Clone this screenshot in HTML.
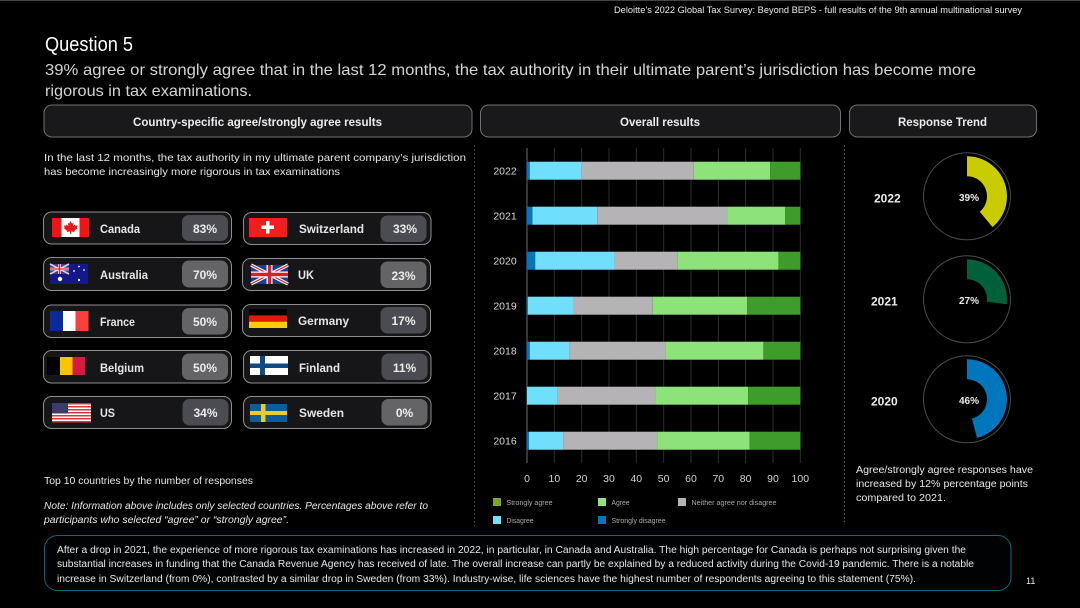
<!DOCTYPE html>
<html lang="en">
<head>
<meta charset="utf-8">
<title>Question 5 - Global Tax Survey</title>
<style>
html,body{margin:0;padding:0;background:#000;width:1080px;height:608px;overflow:hidden}
svg{display:block;font-family:"Liberation Sans",Arial,sans-serif;filter:blur(0.25px)}
text{fill:#ececec}
.card{fill:#161618;stroke:#8e8e8e;stroke-width:1}
.head{fill:#19191b;stroke:#707070;stroke-width:1}
.name{font-size:12px;font-weight:bold;fill:#e6e6e6}
.pct{font-size:12px;font-weight:bold;fill:#ececec;text-anchor:middle}
.body{font-size:10.5px;fill:#e6e6e6}
.small{font-size:10px;fill:#e8e8e8}
</style>
</head>
<body>
<svg id="page" xmlns="http://www.w3.org/2000/svg" width="1080" height="608" viewBox="0 0 1080 608">
<rect width="1080" height="608" fill="#000"/>
<line x1="0" y1="0.5" x2="1080" y2="0.5" stroke="#444"/>
<text x="614" y="13" font-size="9" textLength="408" lengthAdjust="spacingAndGlyphs">Deloitte’s 2022 Global Tax Survey: Beyond BEPS  - full results of the 9th annual multinational survey</text>
<text x="45" y="51" font-size="20.500" textLength="88" lengthAdjust="spacingAndGlyphs" style="fill:#fff">Question 5</text>
<text x="45" y="75" font-size="16" textLength="931" lengthAdjust="spacingAndGlyphs" style="fill:#d4d4d4">39% agree or strongly agree that in the last 12 months, the tax authority in their ultimate parent’s jurisdiction has become more</text>
<text x="45" y="96" font-size="16" textLength="207" lengthAdjust="spacingAndGlyphs" style="fill:#d4d4d4">rigorous in tax examinations.</text>

<g>
<rect class="head" x="44" y="105" width="428" height="32" rx="8"/>
<text x="133" y="126" font-size="12" font-weight="bold" textLength="249" lengthAdjust="spacingAndGlyphs">Country-specific agree/strongly agree results</text>
</g>
<g>
<rect class="head" x="480.5" y="105" width="360" height="32" rx="8"/>
<text x="620" y="126" font-size="12" font-weight="bold" textLength="80" lengthAdjust="spacingAndGlyphs">Overall results</text>
</g>
<g>
<rect class="head" x="849.5" y="105" width="187" height="32" rx="8"/>
<text x="898" y="126" font-size="12" font-weight="bold" textLength="89" lengthAdjust="spacingAndGlyphs">Response Trend</text>
</g>

<text class="body" x="44" y="161" textLength="422" lengthAdjust="spacingAndGlyphs">In the last 12 months, the tax authority in my ultimate parent company’s jurisdiction</text>
<text class="body" x="44" y="175" textLength="296" lengthAdjust="spacingAndGlyphs">has become increasingly more rigorous in tax examinations</text>

<line x1="474.5" y1="145" x2="474.5" y2="526" stroke="#444" stroke-dasharray="2 2"/>
<line x1="844.5" y1="145" x2="844.5" y2="522" stroke="#555" stroke-dasharray="2 2"/>

<!-- Left column cards -->
<g>
<rect class="card" x="43.5" y="212" width="188" height="32" rx="8"/>
<g><rect x="52" y="218" width="37" height="19" fill="#fff"/><rect x="52" y="218" width="9.5" height="19" fill="#f01414"/><rect x="79.5" y="218" width="9.5" height="19" fill="#f01414"/><path d="M70.5 221l1.6 2.6 1.5-.7-.6 3.2 1.9-1.6.6 1.2 2-.3-.7 2.2.9.5-3.4 2.7.3 1.2-3.3-.5v2.5h-1.2v-2.5l-3.3.5.3-1.2-3.4-2.7.9-.5-.7-2.2 2 .3.6-1.2 1.900 1.600-.6-3.200 1.500.7z" fill="#e81818"/></g>
<text class="name" x="100" y="233" textLength="40" lengthAdjust="spacingAndGlyphs">Canada</text>
<rect x="182" y="215" width="46" height="26" rx="7" fill="#4b4c51"/>
<text class="pct" x="205" y="233">83%</text>
</g>
<g>
<rect class="card" x="43.5" y="257.5" width="188" height="33" rx="8"/>
<g><rect x="50" y="264" width="38" height="20" fill="#14198a"/><rect x="50" y="264" width="19" height="10" fill="#3d3f8f"/><path d="M50 264l19 10M69 264l-19 10" stroke="#e8c8cc" stroke-width="1.6"/><path d="M59.5 264v10M50 269h19" stroke="#fff" stroke-width="2.6"/><path d="M59.5 264v10M50 269h19" stroke="#d8202c" stroke-width="1.3"/><circle cx="60" cy="279" r="2.2" fill="#fff"/><circle cx="79" cy="266.5" r=".9" fill="#fff"/><circle cx="74" cy="271" r=".9" fill="#fff"/><circle cx="84" cy="270" r=".9" fill="#fff"/><circle cx="79" cy="280" r="1.1" fill="#fff"/></g>
<text class="name" x="100" y="279" textLength="48" lengthAdjust="spacingAndGlyphs">Australia</text>
<rect x="182" y="260.5" width="46" height="27" rx="7" fill="#646466"/>
<text class="pct" x="205" y="279">70%</text>
</g>
<g>
<rect class="card" x="43.5" y="305" width="188" height="32.5" rx="8"/>
<g><rect x="50" y="311" width="13" height="20" fill="#0a2a9c"/><rect x="63" y="311" width="12.5" height="20" fill="#fff"/><rect x="75.5" y="311" width="13" height="20" fill="#fb3f3f"/></g>
<text class="name" x="100" y="326" textLength="35" lengthAdjust="spacingAndGlyphs">France</text>
<rect x="182" y="308" width="46" height="26.5" rx="7" fill="#646466"/>
<text class="pct" x="205" y="326">50%</text>
</g>
<g>
<rect class="card" x="43.5" y="350.5" width="188" height="32.5" rx="8"/>
<g><rect x="47" y="357" width="13" height="18" fill="#000"/><rect x="60" y="357" width="12.5" height="18" fill="#fdc500"/><rect x="72.5" y="357" width="12.5" height="18" fill="#d81a40"/></g>
<text class="name" x="100" y="372" textLength="44" lengthAdjust="spacingAndGlyphs">Belgium</text>
<rect x="182" y="353.5" width="46" height="26.5" rx="7" fill="#646466"/>
<text class="pct" x="205" y="372">50%</text>
</g>
<g>
<rect class="card" x="43.5" y="396.5" width="188" height="32" rx="8"/>
<g><rect x="52" y="403" width="39" height="19.5" fill="#fff"/><line x1="71.5" y1="403" x2="71.5" y2="422.5" stroke="#d8343f" stroke-width="39" stroke-dasharray="1.5 1.5"/><rect x="52" y="403" width="16" height="10.5" fill="#3c3b6e"/></g>
<text class="name" x="100" y="417" textLength="15" lengthAdjust="spacingAndGlyphs">US</text>
<rect x="182.5" y="399" width="46" height="26.5" rx="7" fill="#4b4c51"/>
<text class="pct" x="205.5" y="417">34%</text>
</g>

<!-- Right column cards -->
<g>
<rect class="card" x="243.5" y="212.5" width="187.5" height="32" rx="8"/>
<g><rect x="249" y="218" width="38" height="19" fill="#f41c1c"/><path d="M266 221h3.5v4.500h4.500v3.500h-4.500v4.500h-3.500v-4.500h-4.500v-3.500h4.500z" fill="#fff"/></g>
<text class="name" x="299" y="233" textLength="65" lengthAdjust="spacingAndGlyphs">Switzerland</text>
<rect x="380.5" y="215.5" width="46" height="26.5" rx="7" fill="#4b4c51"/>
<text class="pct" x="405" y="233">33%</text>
</g>
<g>
<rect class="card" x="242.5" y="258.5" width="188" height="32" rx="8"/>
<g><rect x="251" y="265" width="37" height="19" fill="#1a3d8f"/><path d="M251 265l37 19M288 265l-37 19" stroke="#fff" stroke-width="3.4"/><path d="M251 265l37 19M288 265l-37 19" stroke="#d8202c" stroke-width="1.2"/><path d="M269.5 265v19M251 274.5h37" stroke="#fff" stroke-width="6"/><path d="M269.5 265v19M251 274.5h37" stroke="#d8202c" stroke-width="3.4"/></g>
<text class="name" x="298" y="279" textLength="16" lengthAdjust="spacingAndGlyphs">UK</text>
<rect x="380.5" y="261.5" width="46" height="26.5" rx="7" fill="#646466"/>
<text class="pct" x="403.5" y="280">23%</text>
</g>
<g>
<rect class="card" x="242.5" y="304.5" width="188" height="32" rx="8"/>
<g><rect x="249" y="309" width="38" height="6.4" fill="#000"/><rect x="249" y="315.4" width="38" height="6.3" fill="#dd1c0c"/><rect x="249" y="321.7" width="38" height="6.3" fill="#ffcc00"/></g>
<text class="name" x="298" y="325" textLength="51" lengthAdjust="spacingAndGlyphs">Germany</text>
<rect x="380.5" y="307" width="46" height="26.5" rx="7" fill="#4b4c51"/>
<text class="pct" x="403.5" y="325">17%</text>
</g>
<g>
<rect class="card" x="243.5" y="350.5" width="187.5" height="32.5" rx="8"/>
<g><rect x="250" y="356" width="38" height="19" fill="#fff"/><rect x="250" y="363.5" width="38" height="4.5" fill="#0e4a86"/><rect x="260" y="356" width="5" height="19" fill="#0e4a86"/></g>
<text class="name" x="299" y="372" textLength="41" lengthAdjust="spacingAndGlyphs">Finland</text>
<rect x="381.5" y="353.5" width="46" height="26.5" rx="7" fill="#4b4c51"/>
<text class="pct" x="404.5" y="372">11%</text>
</g>
<g>
<rect class="card" x="243.5" y="396.5" width="187.5" height="32" rx="8"/>
<g><rect x="250" y="404" width="37" height="18" fill="#0f5c9c"/><rect x="250" y="411" width="37" height="4" fill="#e8cc2a"/><rect x="261" y="404" width="4.5" height="18" fill="#e8cc2a"/></g>
<text class="name" x="299" y="417" textLength="45" lengthAdjust="spacingAndGlyphs">Sweden</text>
<rect x="381.5" y="399" width="46" height="26.5" rx="7" fill="#646466"/>
<text class="pct" x="404.5" y="417">0%</text>
</g>

<text class="small" x="44" y="484" textLength="209" lengthAdjust="spacingAndGlyphs">Top 10 countries by the number of responses</text>
<text class="small" x="44" y="509" font-style="italic" textLength="384" lengthAdjust="spacingAndGlyphs">Note: Information above includes only selected countries. Percentages above refer to</text>
<text class="small" x="44" y="523" font-style="italic" textLength="245" lengthAdjust="spacingAndGlyphs">participants who selected “agree” or “strongly agree”.</text>

<g id="bar-chart"></g>
<g id="donut-charts"></g>

<text class="small" x="856" y="473" textLength="177" lengthAdjust="spacingAndGlyphs">Agree/strongly agree responses have</text>
<text class="small" x="856" y="487" textLength="172" lengthAdjust="spacingAndGlyphs">increased by 12% percentage points</text>
<text class="small" x="856" y="501" textLength="90" lengthAdjust="spacingAndGlyphs">compared to 2021.</text>

<g>
<rect x="44.5" y="535.5" width="966.5" height="55" rx="13" fill="#010203" stroke="#0a6b7a"/>
<text class="small" x="57" y="553" textLength="909" lengthAdjust="spacingAndGlyphs">After a drop in 2021, the experience of more rigorous tax examinations has increased in 2022, in particular, in Canada and Australia. The high percentage for Canada is perhaps not surprising given the</text>
<text class="small" x="57" y="567" textLength="917" lengthAdjust="spacingAndGlyphs">substantial increases in funding that the Canada Revenue Agency has received of late. The overall increase can partly be explained by a reduced activity during the Covid-19 pandemic. There is a notable</text>
<text class="small" x="57" y="582" textLength="859" lengthAdjust="spacingAndGlyphs">increase in Switzerland (from 0%), contrasted by a similar drop in Sweden (from 33%). Industry-wise, life sciences have the highest number of respondents agreeing to this statement (75%).</text>
</g>
<text x="1026" y="584" font-size="9">11</text>
</svg>

<script>
var years = ["2022", "2021", "2020", "2019", "2018", "2017", "2016"];
var stronglyDisagree = [1, 2, 3, 0.3, 1, 0, 0.7];
var disagree = [19, 23.7, 29, 16.7, 14.6, 11.3, 12.5];
var neither = [41, 47.5, 23, 29, 35.1, 35.7, 34.4];
var agree = [28, 21.2, 37, 34.6, 35.8, 33.9, 33.9];
var stronglyAgree = [11, 5.6, 8, 19.4, 13.5, 19.1, 18.5];
var xTicks = [0, 10, 20, 30, 40, 50, 60, 70, 80, 90, 100];
var seriesNames = ["Strongly disagree", "Disagree", "Neither agree nor disagree", "Agree", "Strongly agree"];
var trendYears = ["2022", "2021", "2020"];
var trendValues = [39, 27, 46];

var NS = "http://www.w3.org/2000/svg";
var seriesColors = ["#0076bd", "#70dffb", "#b5b3b5", "#8ee27a", "#3f9b2a"];
var seriesValues = [stronglyDisagree, disagree, neither, agree, stronglyAgree];
var bar = document.getElementById("bar-chart");
var donuts = document.getElementById("donut-charts");

function make(parent, tag, attrs, txt) {
  var el = document.createElementNS(NS, tag);
  for (var k in attrs) el.setAttribute(k, attrs[k]);
  if (txt !== undefined) el.textContent = txt;
  parent.appendChild(el);
  return el;
}
function xScale(v) { return 527 + v * 2.733; }
function yBand(i) { return 148.4 + i * 45; }

xTicks.forEach(function (t) {
  var g = make(bar, "line", { x1: xScale(t), x2: xScale(t), y1: 148, y2: 463, stroke: t === 0 ? "#6a6a6a" : "#2c2c2c", "stroke-width": 1 });
  
  
  var lab = make(bar, "text", { x: xScale(t), y: 482, "font-size": 10.5, "text-anchor": "middle", style: "fill:#d0d0d0" }, String(t));
  
  
});

years.forEach(function (year, i) {
  var top = yBand(i) + 13.3;
  var lab = make(bar, "text", { x: 505, y: top + 13, "font-size": 10.5, "text-anchor": "middle", style: "fill:#d8d8d8" }, year);
  
  
  var cum = 0;
  seriesValues.forEach(function (vals, s) {
    var v = vals[i];
    var r = make(bar, "rect", { x: xScale(cum), y: top, width: Math.max(0, xScale(cum + v) - xScale(cum)), height: 18, fill: seriesColors[s] });
    
    
    cum += v;
  });
});

/* legend rows follow the reference order */
var legendOrder = [4, 3, 2, 1, 0];
var legendColors = ["#0076bd", "#70dffb", "#b5b3b5", "#8ee27a", "#7ba522"];
var legendBoxX = [493, 598, 678, 493, 598];
var legendBoxY = [498, 498, 498, 516, 516];
var legendTextLen = [46, 18, 85, 27, 54];
legendOrder.forEach(function (s, n) {
  var sq = make(bar, "rect", { x: legendBoxX[n], y: legendBoxY[n], width: 8, height: 8, fill: legendColors[s] });
  
  
  var tx = make(bar, "text", { x: legendBoxX[n] + 13.5, y: legendBoxY[n] + 7, "font-size": 7, textLength: legendTextLen[n], lengthAdjust: "spacingAndGlyphs", style: "fill:#aaa" }, seriesNames[s]);
  
  
});

var trendColors = ["#c8cc00", "#006039", "#0076bd"];
var trendLabelX = [874, 871, 871];
function polar(cx, cy, r, pct) {
  var a = pct / 100 * 2 * Math.PI;
  return (cx + r * Math.sin(a)).toFixed(2) + " " + (cy - r * Math.cos(a)).toFixed(2);
}
trendYears.forEach(function (yr, i) {
  var cx = 967, cy = 196.3 + [0, 103, 203][i], ro = 40, ri = 20;
  var v = trendValues[i];
  var big = v > 50 ? 1 : 0;
  var ring = make(donuts, "circle", { cx: cx, cy: cy, r: 43.5, fill: "#000", stroke: "#4a4a4a", "stroke-width": 1 });
  
  
  var d = "M" + polar(cx, cy, ro, 0) + " A" + ro + " " + ro + " 0 " + big + " 1 " + polar(cx, cy, ro, v) +
          " L" + polar(cx, cy, ri, v) + " A" + ri + " " + ri + " 0 " + big + " 0 " + polar(cx, cy, ri, 0) + " Z";
  var arc = make(donuts, "path", { d: d, fill: trendColors[i] });
  
  
  var pct = make(donuts, "text", { x: 969, y: cy + 4.5, "font-size": 10, "font-weight": "bold", "text-anchor": "middle" }, v + "%");
  
  
  var yl = make(donuts, "text", { x: trendLabelX[i], y: cy + 6, "font-size": 12, "font-weight": "bold" }, yr);
  
  
});
</script>
</body>
</html>
